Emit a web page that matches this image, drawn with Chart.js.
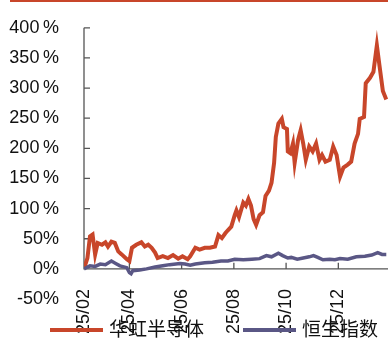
<!DOCTYPE html>
<html lang="zh">
<head>
    <meta charset="UTF-8">
    <title>华虹半导体 vs 恒生指数</title>
    <script src="https://cdn.jsdelivr.net/npm/chart.js"></script>
    <style>
        html, body { margin: 0; padding: 0; background: #fff; }
        #wrap { width: 388px; height: 340px; }
    </style>
</head>
<body>
<div id="wrap"><canvas id="chart" width="388" height="340"></canvas></div>
<script>
    // x values: calendar days counted from 2025-02-07
    const hhDays = [0, 4, 7, 10, 13, 16, 21, 25, 28, 32, 36, 40, 44, 50, 53, 56, 61, 67, 71, 75, 79, 83, 86, 92, 98,
        104, 110, 115, 121, 124, 130, 135, 141, 147, 153, 157, 161, 165, 168, 172, 176, 178, 181, 186, 189, 192, 195,
        198, 201, 205, 209, 212, 216, 219, 222, 224, 227, 231, 233, 237, 238, 241, 244, 246, 250, 253, 256, 259, 263,
        267, 271, 275, 278, 282, 287, 291, 295, 299, 303, 308, 312, 316, 320, 322, 327, 329, 334, 338, 342, 345, 349,
        353];
    const hhVals = [0, 18, 54, 57, 24, 43, 40, 44, 37, 45, 43, 29, 24, 16, 13, 35, 40, 44, 37, 40, 35, 27, 18, 21, 18,
        23, 17, 21, 16, 21, 35, 32, 35, 35, 37, 56, 51, 59, 64, 70, 89, 97, 86, 110, 105, 116, 105,
        83, 73, 89, 94, 121, 130, 143, 176, 219, 241, 249, 235, 232, 195, 192, 208, 176, 214, 230, 208, 181, 203,
        195, 208, 181, 189, 178, 181, 203, 189, 153, 168, 173, 178, 208, 224, 249, 252, 308, 317, 327, 371, 338, 295,
        281];

    const hsiDays = [0, 4, 7, 13, 19, 25, 32, 37, 42, 50, 53, 55, 57, 65, 73, 83, 92, 100, 112, 118, 124, 130, 141,
        150, 160, 168, 176, 186, 196, 205, 213, 219, 227, 232, 238, 242, 249, 256, 263, 268, 273, 279, 287, 293, 299,
        308, 318, 328, 336, 343, 348, 353];
    const hsiVals = [0, 3, 5, 4, 8, 7, 13, 9, 5, 2, -6, -8, -3, -2, 0, 3, 5, 7, 9, 8, 6, 8, 10,
        11, 13, 13, 16, 15, 16, 17, 22, 20, 26, 22, 18, 19, 16, 18, 20, 22, 19, 15, 16, 15, 17,
        16, 20, 21, 23, 27, 24, 24];

    const xTickDays = [0, 53, 114, 175, 236, 297];
    const xTickLabels = ['25/02', '25/04', '25/06', '25/08', '25/10', '25/12'];
    const yTickValues = [-50, 0, 50, 100, 150, 200, 250, 300, 350, 400];
    const yTickLabels = ['-50%', '0%', '50%', '100\u2009%', '150\u2009%', '200\u2009%', '250\u2009%', '300\u2009%',
        '350\u2009%', '400\u2009%'];

    const ORANGE = '#C8462A';
    const PURPLE = '#5A5785';
    const AXIS = '#555555';
    const TEXT = '#111111';
    const FONT = "'Liberation Sans', Arial, sans-serif";
    const CJK = "'Noto Sans CJK SC', 'Liberation Sans', sans-serif";

    function toPoints(xs, ys) {
        return xs.map((d, i) => ({x: d, y: ys[i]}));
    }

    // axis lines with inward tick marks, plus the rule along the top
    const axisPlugin = {
        id: 'axisLines',
        beforeDatasetsDraw(chart) {
            const {ctx, scales: {x, y}} = chart;
            const y0 = y.getPixelForValue(0);
            ctx.save();
            ctx.strokeStyle = AXIS;
            ctx.lineWidth = 1.3;
            ctx.beginPath();
            ctx.moveTo(x.left, y.getPixelForValue(400));
            ctx.lineTo(x.left, y0);
            ctx.lineTo(x.right, y0);
            yTickValues.filter(v => v >= 0).forEach(v => {
                const p = y.getPixelForValue(v);
                ctx.moveTo(x.left, p);
                ctx.lineTo(x.left + 6, p);
            });
            xTickDays.forEach(v => {
                const p = x.getPixelForValue(v);
                ctx.moveTo(p, y0);
                ctx.lineTo(p, y0 - 6);
            });
            ctx.stroke();
            ctx.strokeStyle = ORANGE;
            ctx.lineWidth = 2;
            ctx.beginPath();
            ctx.moveTo(10, 1);
            ctx.lineTo(chart.width, 1);
            ctx.stroke();
            ctx.restore();
        }
    };

    // legend sits under the axis labels, overlapping them like the original
    const legendX = [50, 243];
    const legendPlugin = {
        id: 'bottomLegend',
        afterDraw(chart) {
            const ctx = chart.ctx;
            ctx.save();
            chart.data.datasets.forEach((ds, i) => {
                const x0 = legendX[i];
                ctx.strokeStyle = ds.borderColor;
                ctx.lineWidth = 4;
                ctx.beginPath();
                ctx.moveTo(x0, 330);
                ctx.lineTo(x0 + 53, 330);
                ctx.stroke();
                ctx.fillStyle = TEXT;
                ctx.font = '19px ' + CJK;
                ctx.textBaseline = 'middle';
                ctx.fillText(ds.label, x0 + 59, 329);
            });
            ctx.restore();
        }
    };

    const chart = new Chart(document.getElementById('chart'), {
        type: 'line',
        data: {
            datasets: [
                {
                    label: '华虹半导体',
                    data: toPoints(hhDays, hhVals),
                    borderColor: ORANGE,
                    borderWidth: 4,
                    pointRadius: 0,
                    tension: 0,
                    order: 1
                },
                {
                    label: '恒生指数',
                    data: toPoints(hsiDays, hsiVals),
                    borderColor: PURPLE,
                    borderWidth: 3.5,
                    pointRadius: 0,
                    tension: 0,
                    order: 0
                }
            ]
        },
        options: {
            responsive: false,
            animation: false,
            devicePixelRatio: 1,
            layout: {padding: {top: 20, bottom: 41, left: 0, right: 0}},
            plugins: {legend: {display: false}, tooltip: {enabled: false}},
            scales: {
                x: {
                    type: 'linear',
                    position: {y: 0},
                    min: 0,
                    max: 355,
                    grid: {display: false},
                    border: {display: false},
                    afterBuildTicks: s => { s.ticks = xTickDays.map(v => ({value: v})); },
                    afterFit: s => { s.height = 0; },
                    ticks: {
                        autoSkip: false,
                        minRotation: 90,
                        maxRotation: 90,
                        padding: 12,
                        color: TEXT,
                        font: {family: FONT, size: 18},
                        callback: v => xTickLabels[xTickDays.indexOf(v)]
                    }
                },
                y: {
                    type: 'linear',
                    min: -50,
                    max: 400,
                    grid: {display: false},
                    border: {display: false},
                    afterBuildTicks: s => { s.ticks = yTickValues.map(v => ({value: v})); },
                    afterFit: s => { s.width = 84; },
                    ticks: {
                        padding: 17,
                        color: TEXT,
                        font: {family: FONT, size: 18},
                        callback: v => yTickLabels[yTickValues.indexOf(v)]
                    }
                }
            }
        },
        plugins: [axisPlugin, legendPlugin]
    });
</script>
</body>
</html>
